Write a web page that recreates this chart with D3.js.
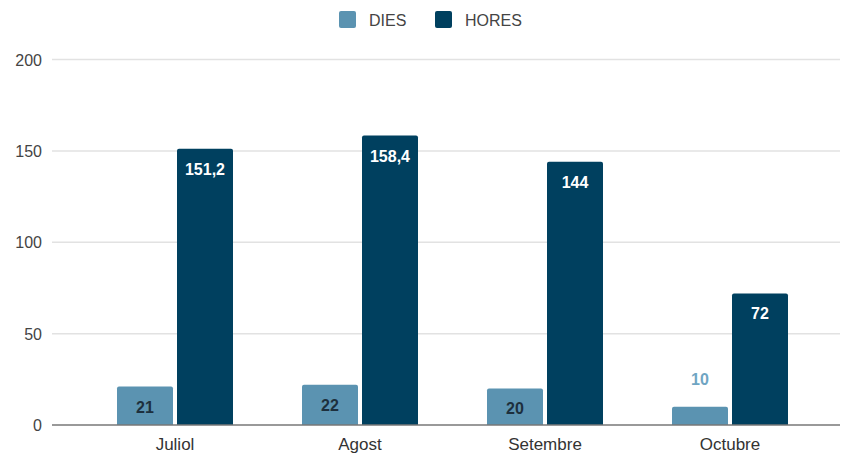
<!DOCTYPE html>
<html><head><meta charset="utf-8">
<script src="https://cdn.jsdelivr.net/npm/d3@7"></script>
<style>body{margin:0;background:#fff}svg{display:block;font-family:"Liberation Sans",Arial,sans-serif}</style>
</head><body><svg id="c" width="841" height="453"></svg>
<script>
const categories = ["Juliol","Agost","Setembre","Octubre"];
const series = ["DIES","HORES"];
const dies = [21,22,20,10];
const hores = [151.2,158.4,144,72];
const yTicks = [0,50,100,150,200];
const colors = {DIES:"#5b93b1", HORES:"#00405f"};
const labelColors = {DIES:"#1d2f3d", HORES:"#ffffff"};

const svg = d3.select("#c");
const x0 = d3.scaleBand().domain(categories).range([82.5,822.5]).paddingInner(0.373).paddingOuter(0.1865);
const x1 = d3.scaleBand().domain(series).range([0,x0.bandwidth()]).paddingInner(0.0667);
const y = d3.scaleLinear().domain([0,200]).range([425,59.5]);

// gridlines
svg.append("g").selectAll("line").data(yTicks.filter(d=>d>0)).join("line")
  .attr("x1",52).attr("x2",840).attr("y1",d=>y(d)).attr("y2",d=>y(d))
  .attr("stroke","#e2e2e2").attr("stroke-width",1.5);
svg.append("g").selectAll("text").data(yTicks).join("text")
  .attr("x",42).attr("y",d=>y(d)+6).attr("text-anchor","end")
  .attr("font-size",16).attr("fill","#444").text(d=>d);

const data = categories.map((c,i)=>({cat:c, vals:[{s:"DIES",v:dies[i]},{s:"HORES",v:hores[i]}]}));
const fmt = v => String(v).replace(".",",");
const r = 2;
const g = svg.append("g").selectAll("g").data(data).join("g").attr("transform",d=>`translate(${x0(d.cat)},0)`);
g.selectAll("path").data(d=>d.vals).join("path")
  .attr("fill",d=>colors[d.s])
  .attr("d",d=>{const x=x1(d.s), w=x1.bandwidth(), t=y(d.v), b=y(0);
    return `M${x},${b}V${t+r}Q${x},${t} ${x+r},${t}H${x+w-r}Q${x+w},${t} ${x+w},${t+r}V${b}Z`;});
g.selectAll("text").data(d=>d.vals).join("text")
  .attr("x",d=>x1(d.s)+x1.bandwidth()/2)
  .attr("y",d=>{const h=y(0)-y(d.v); return h<30 ? y(d.v)-22 : y(d.v)+26;})
  .attr("text-anchor","middle").attr("font-size",16).attr("font-weight","bold")
  .attr("fill",d=>{const h=y(0)-y(d.v); return h<30 ? "#6fa5c3" : labelColors[d.s];})
  .text(d=>fmt(d.v));

// baseline
svg.append("line").attr("x1",52).attr("x2",840).attr("y1",y(0)).attr("y2",y(0)).attr("stroke","#777").attr("stroke-width",1.5);
// x labels
svg.append("g").selectAll("text").data(categories).join("text")
  .attr("x",d=>x0(d)+x0.bandwidth()/2).attr("y",450).attr("text-anchor","middle")
  .attr("font-size",17).attr("fill","#333").text(d=>d);

// legend
const leg = svg.append("g");
const legX = [339,435];
series.forEach((s,i)=>{
  leg.append("rect").attr("x",legX[i]).attr("y",11).attr("width",17).attr("height",17).attr("rx",2).attr("fill",colors[s]);
  leg.append("text").attr("x",legX[i]+30).attr("y",25.5).attr("font-size",16).attr("fill","#444").text(s);
});
</script></body></html>
